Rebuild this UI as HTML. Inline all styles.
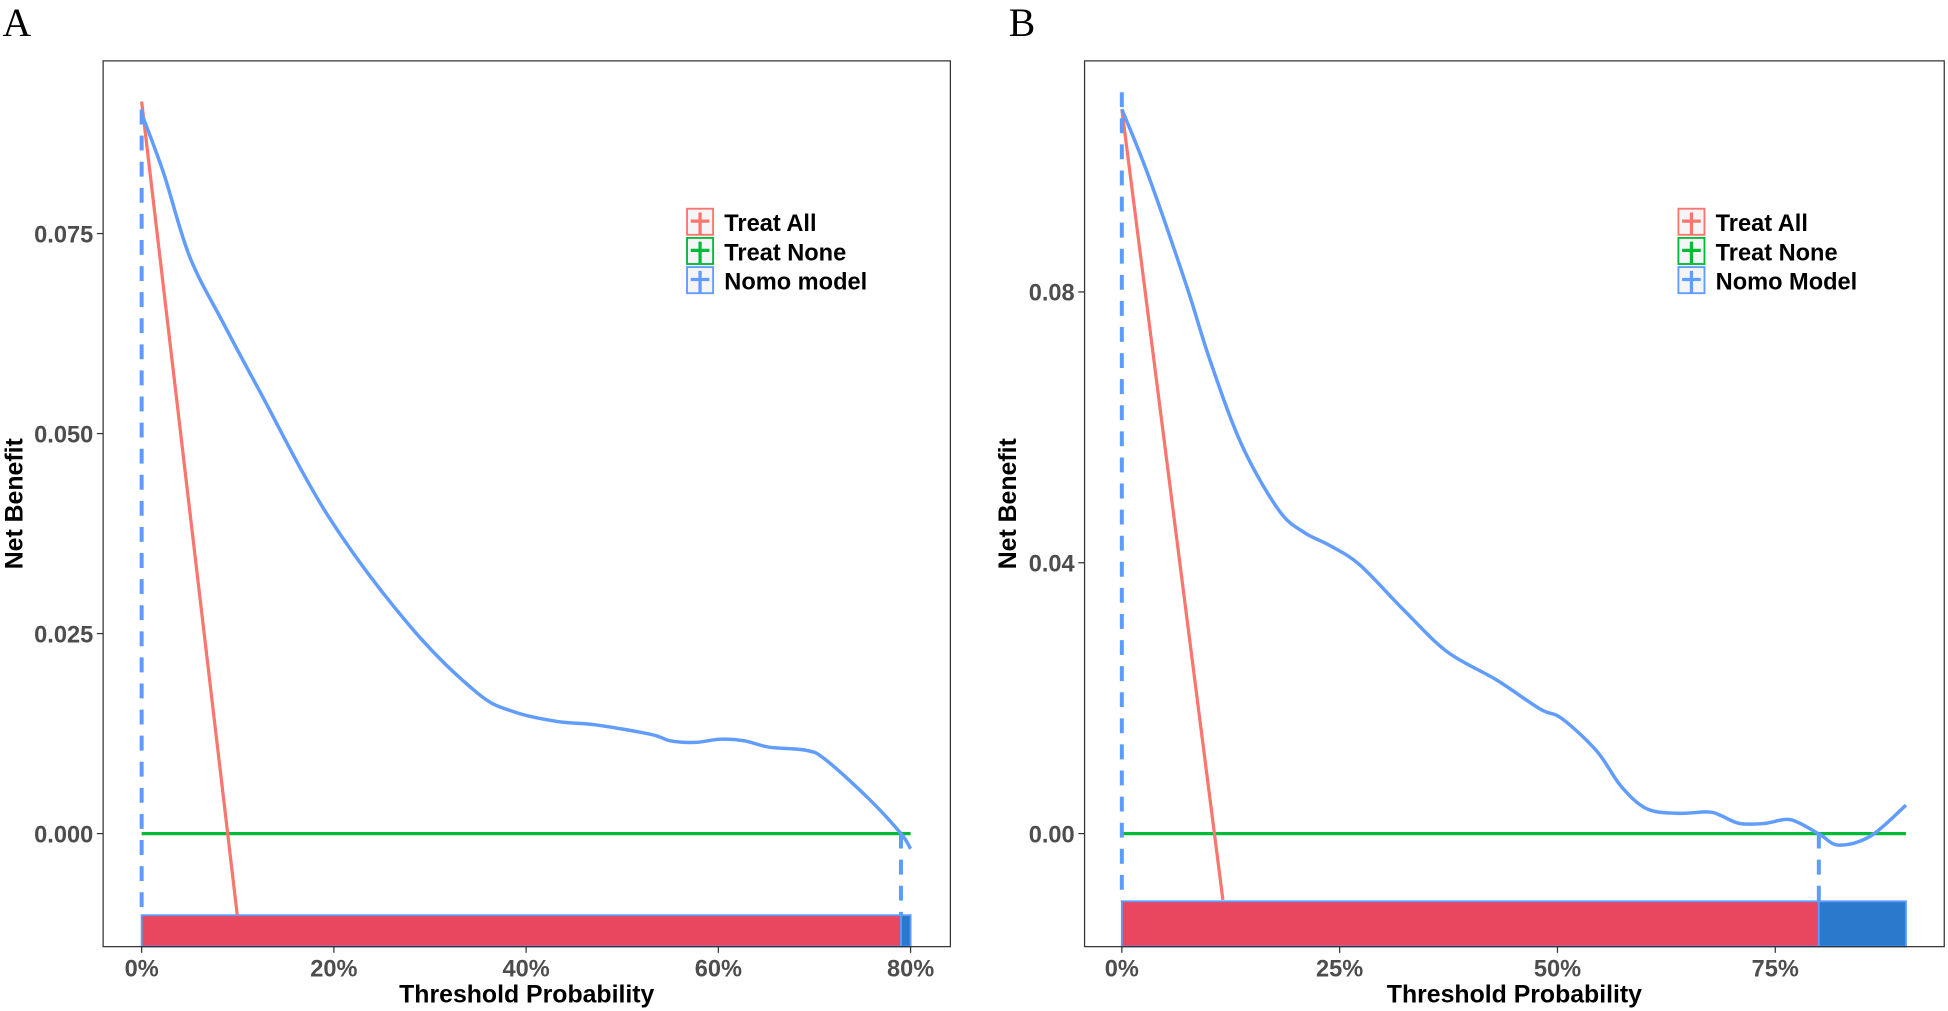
<!DOCTYPE html>
<html><head><meta charset="utf-8">
<style>
html,body{margin:0;padding:0;background:#fff;}
svg{display:block;}
.sans{font-family:"Liberation Sans",Arial,sans-serif;}
.serif{font-family:"Liberation Serif","Times New Roman",serif;}
</style></head>
<body>
<svg id="fig" width="1948" height="1011" viewBox="0 0 1568 813.8" xmlns="http://www.w3.org/2000/svg"></svg>
<script>
// ---- Panel A data ----
const aThresh = [0, 2.3, 5, 8.5, 12.1, 19.4, 27.8, 34.9, 38.8, 43.3, 47.2, 53, 55, 57.6, 60.2, 62.7, 65.3, 69.2, 71.2, 75.7, 79, 80];
const aModel = [0.090, 0.0825, 0.0721, 0.0638, 0.0557, 0.0397, 0.0261, 0.0176, 0.0152, 0.0140, 0.0136, 0.0124, 0.0116, 0.0114, 0.0118, 0.0116, 0.0108, 0.0104, 0.0092, 0.0043, 0.0, -0.0019];
const aAllThresh = [0, 9.95];
const aAllValues = [0.0915, -0.0102];
const aYTicks = [0, 0.025, 0.05, 0.075];
const aYTickLabels = ["0.000", "0.025", "0.050", "0.075"];
const aXTicks = [0, 20, 40, 60, 80];
const aXTickLabels = ["0%", "20%", "40%", "60%", "80%"];
const aBarSegments = [0, 79, 80];
const aCross = 79;
const aLegend = ["Treat All", "Treat None", "Nomo model"];

// ---- Panel B data ----
const bThresh = [0, 3.1, 7.4, 10.2, 13.8, 18, 20.9, 23.8, 27.3, 32.3, 37.3, 43, 48, 50.5, 54.5, 57.3, 60.2, 63.7, 67.3, 68.7, 70.9, 73.7, 76.2, 77.7, 80.2, 82.3, 85.9, 90];
const bModel = [0.107, 0.097, 0.081, 0.0696, 0.0573, 0.0478, 0.0445, 0.0426, 0.0397, 0.0331, 0.0269, 0.0227, 0.0184, 0.0170, 0.0122, 0.0070, 0.0037, 0.0030, 0.0032, 0.0027, 0.0015, 0.0015, 0.0021, 0.0016, -0.0002, -0.0017, -0.0004, 0.0042];
const bAllThresh = [0, 11.6];
const bAllValues = [0.107, -0.0098];
const bYTicks = [0, 0.04, 0.08];
const bYTickLabels = ["0.00", "0.04", "0.08"];
const bXTicks = [0, 25, 50, 75];
const bXTickLabels = ["0%", "25%", "50%", "75%"];
const bBarSegments = [0, 80, 90];
const bCross = 80;
const bLegend = ["Treat All", "Treat None", "Nomo Model"];

const NS = "http://www.w3.org/2000/svg";
const svg = document.getElementById("fig");
function mk(tag, attrs, parent) {
  const e = document.createElementNS(NS, tag);
  for (const k in attrs) e.setAttribute(k, attrs[k]);
  (parent || svg).appendChild(e);
  return e;
}
function smoothPath(pts) {
  let d = "M" + pts[0][0] + "," + pts[0][1];
  for (let i = 0; i < pts.length - 1; i++) {
    const p0 = pts[Math.max(0, i - 1)], p1 = pts[i], p2 = pts[i + 1], p3 = pts[Math.min(pts.length - 1, i + 2)];
    const c1x = p1[0] + (p2[0] - p0[0]) / 6, c1y = p1[1] + (p2[1] - p0[1]) / 6;
    const c2x = p2[0] - (p3[0] - p1[0]) / 6, c2y = p2[1] - (p3[1] - p1[1]) / 6;
    d += " C" + c1x + "," + c1y + " " + c2x + "," + c2y + " " + p2[0] + "," + p2[1];
  }
  return d;
}

function panel(cfg) {
  const g = mk("g", {class: "sans"});
  
  
  const X = v => cfg.x0 + (v - cfg.xd0) * cfg.xs;
  const Y = v => cfg.y0 - v * cfg.ys;
  const L = cfg.box[0], T = cfg.box[1], R = cfg.box[2], B = cfg.box[3];

  const lab = mk("text", {x: cfg.labX, y: 29, class: "serif", "font-size": 32, fill: "#000"}, g);
  lab.textContent = cfg.label;
  
  

  const barTop = Y(cfg.barVal);
  const cols = ["#e8475f", "#2a79cc"];
  for (let i = 0; i < cfg.seg.length - 1; i++) {
    const r = mk("rect", {x: X(cfg.seg[i]), y: barTop, width: X(cfg.seg[i+1]) - X(cfg.seg[i]), height: B - barTop, fill: cols[i], stroke: "#5c9bff", "stroke-width": 1.5}, g);
    
    
  }
  const tn = mk("line", {x1: X(0), x2: X(cfg.seg[cfg.seg.length-1]), y1: Y(0), y2: Y(0), stroke: "#00ba38", "stroke-width": 2.6}, g);
  
  
  const ta = mk("polyline", {points: cfg.allT.map((t, i) => X(t) + "," + Y(cfg.allV[i])).join(" "), fill: "none", stroke: "#f8766d", "stroke-width": 2.6}, g);
  
  
  const d1 = mk("line", {x1: X(0), x2: X(0), y1: Y(cfg.dashTop), y2: barTop, stroke: "#5c9bff", "stroke-width": 3.2, "stroke-dasharray": "12,9"}, g);
  
  
  const d2 = mk("line", {x1: X(cfg.cross), x2: X(cfg.cross), y1: Y(0), y2: barTop, stroke: "#5c9bff", "stroke-width": 3.2, "stroke-dasharray": "12,9"}, g);
  
  
  const mc = mk("path", {d: smoothPath(cfg.mT.map((t, i) => [X(t), Y(cfg.mV[i])])), fill: "none", stroke: "#619cff", "stroke-width": 2.8, "stroke-linejoin": "round"}, g);
  
  
  const fr = mk("rect", {x: L, y: T, width: R - L, height: B - T, fill: "none", stroke: "#333", "stroke-width": 1}, g);
  
  
  cfg.yT.forEach((v, i) => {
    mk("line", {x1: L - 5, x2: L, y1: Y(v), y2: Y(v), stroke: "#333", "stroke-width": 1}, g);
    const t = mk("text", {x: L - 8, y: Y(v) + 7, "text-anchor": "end", "font-size": 19, "font-weight": "bold", fill: "#4d4d4d"}, g);
    t.textContent = cfg.yL[i];
    
    
  });
  cfg.xT.forEach((v, i) => {
    mk("line", {x1: X(v), x2: X(v), y1: B, y2: B + 5, stroke: "#333", "stroke-width": 1}, g);
    const t = mk("text", {x: X(v), y: B + 24, "text-anchor": "middle", "font-size": 19, "font-weight": "bold", fill: "#4d4d4d"}, g);
    t.textContent = cfg.xL[i];
    
    
  });
  const xt = mk("text", {x: (L + R) / 2, y: 807, "text-anchor": "middle", "font-size": 20, "font-weight": "bold", fill: "#000"}, g);
  xt.textContent = "Threshold Probability";
  
  
  const yt = mk("text", {x: 0, y: 0, transform: "translate(" + cfg.ytX + "," + ((T + B) / 2) + ") rotate(-90)", "text-anchor": "middle", "font-size": 20, "font-weight": "bold", fill: "#000"}, g);
  yt.textContent = "Net Benefit";
  
  
  const lc = ["#f8766d", "#00ba38", "#619cff"];
  cfg.leg.forEach((name, i) => {
    const lg = mk("g", {}, g);
    
    
    const bx = cfg.legX, by = 168 + i * 23.5;
    mk("rect", {x: bx, y: by, width: 21, height: 21, fill: "#f5f5f8", stroke: lc[i], "stroke-width": 1.5}, lg);
    mk("line", {x1: bx + 3, x2: bx + 18, y1: by + 10, y2: by + 10, stroke: lc[i], "stroke-width": 2.6}, lg);
    mk("line", {x1: bx + 10.5, x2: bx + 10.5, y1: by + 3, y2: by + 21, stroke: lc[i], "stroke-width": 2.6}, lg);
    const t = mk("text", {x: bx + 30, y: by + 18, "font-size": 19, "font-weight": "bold", fill: "#000"}, lg);
    t.textContent = name;
  });
}

panel({name: "panel-a", label: "A", labX: 2, box: [83, 49, 765, 762], x0: 114, xd0: 0, xs: 7.737, y0: 671, ys: 6440,
  barVal: -0.0102, dashTop: 0.0905, seg: aBarSegments, cross: aCross, allT: aAllThresh, allV: aAllValues,
  mT: aThresh, mV: aModel, yT: aYTicks, yL: aYTickLabels, xT: aXTicks, xL: aXTickLabels, ytX: 18, legX: 553, leg: aLegend});
panel({name: "panel-b", label: "B", labX: 812, box: [873, 49, 1565, 762], x0: 903, xd0: 0, xs: 7.013, y0: 671, ys: 5450,
  barVal: -0.0100, dashTop: 0.1095, seg: bBarSegments, cross: bCross, allT: bAllThresh, allV: bAllValues,
  mT: bThresh, mV: bModel, yT: bYTicks, yL: bYTickLabels, xT: bXTicks, xL: bXTickLabels, ytX: 818, legX: 1351, leg: bLegend});
</script>
</body></html>
